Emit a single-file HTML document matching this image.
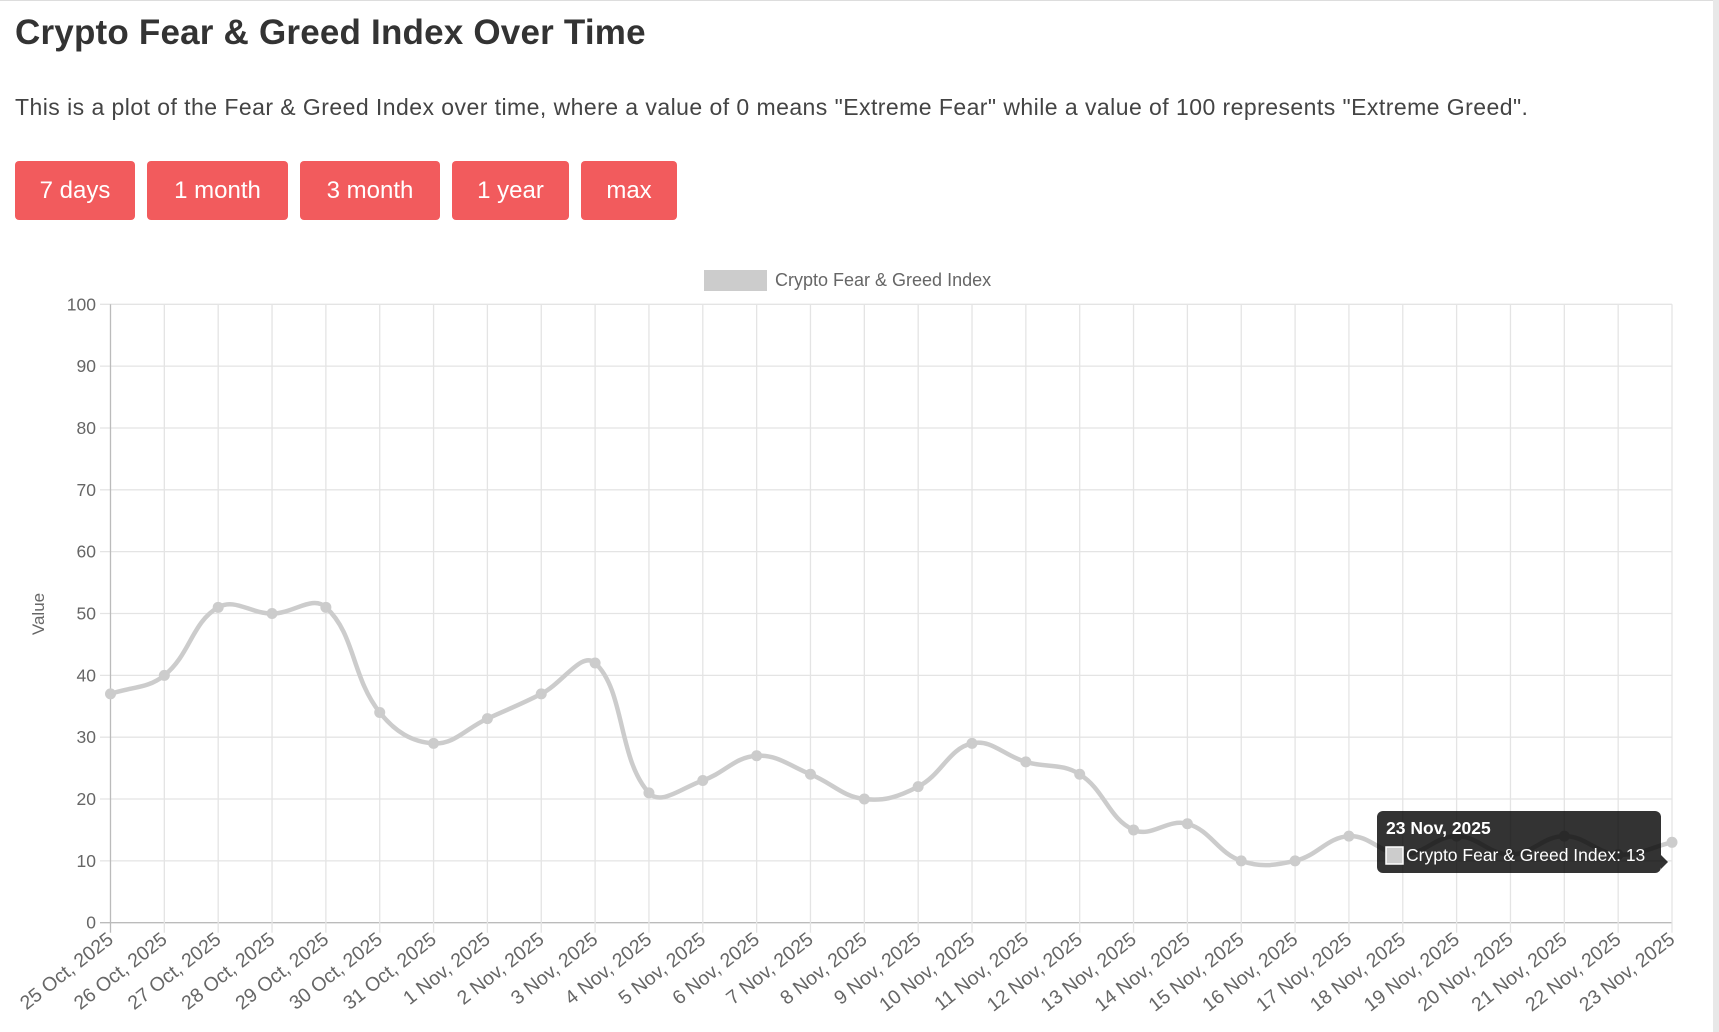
<!DOCTYPE html>
<html><head><meta charset="utf-8"><style>
html,body{margin:0;padding:0;background:#fff;width:1719px;height:1032px;overflow:hidden;position:relative;font-family:"Liberation Sans",sans-serif}
.topline{position:absolute;left:0;top:0;width:1713px;height:1px;background:#ddd}
.sb{position:absolute;right:0;top:0;width:6px;height:1032px;background:#e8e8e8}
h1{position:absolute;left:15px;top:13px;margin:0;font-size:35px;font-weight:bold;color:#333;letter-spacing:0.2px}
p{position:absolute;left:15px;top:94px;margin:0;font-size:23px;color:#444;letter-spacing:0.45px}
.btn{position:absolute;top:161px;height:59px;background:#f25b5d;color:#fff;border-radius:4px;font-size:24px;line-height:59px;text-align:center}
</style></head><body>
<div class="topline"></div><div class="sb"></div>
<h1>Crypto Fear &amp; Greed Index Over Time</h1>
<p>This is a plot of the Fear &amp; Greed Index over time, where a value of 0 means "Extreme Fear" while a value of 100 represents "Extreme Greed".</p>
<div class="btn" style="left:15px;width:120px">7 days</div>
<div class="btn" style="left:147px;width:141px">1 month</div>
<div class="btn" style="left:300px;width:140px">3 month</div>
<div class="btn" style="left:452px;width:117px">1 year</div>
<div class="btn" style="left:581px;width:96px">max</div>
<svg id="c" width="1719" height="1032" style="position:absolute;left:0;top:0" font-family="Liberation Sans, sans-serif"></svg>
<script>
var s=document.getElementById('c'),h='';
var L=110.5,R=1672,T=304.3,B=922.7,n=30,dx=(R-L)/29;
function Y(v){return B-(B-T)*v/100}
h+='<rect x="704" y="270" width="63" height="21" fill="#ccc"/><text x="775" y="286" font-size="18" fill="#666">Crypto Fear &amp; Greed Index</text>';
for(var i=0;i<=10;i++){var y=Y(i*10);h+='<line x1="100" x2="'+R+'" y1="'+y+'" y2="'+y+'" stroke="'+(i==0?'#bbb':'#e4e4e4')+'" stroke-width="1.3"/>';
h+='<text x="96" y="'+(y+6)+'" font-size="17.5" fill="#666" text-anchor="end">'+(i*10)+'</text>';}
var lab=[];for(var d=25;d<=31;d++)lab.push(d+' Oct, 2025');for(var d=1;d<=23;d++)lab.push(d+' Nov, 2025');
for(var i=0;i<n;i++){var x=L+i*dx;h+='<line x1="'+x+'" x2="'+x+'" y1="'+T+'" y2="'+(B+10)+'" stroke="'+(i==0?'#bbb':'#e4e4e4')+'" stroke-width="1.3"/>';
h+='<text transform="translate('+(x+4)+','+(B+19)+') rotate(-38)" font-size="19.5" fill="#666" text-anchor="end">'+lab[i]+'</text>';}
h+='<text transform="translate(44,614) rotate(-90)" font-size="17" fill="#666" text-anchor="middle">Value</text>';
var v=[37,40,51,50,51,34,29,33,37,42,21,23,27,24,20,22,29,26,24,15,16,10,10,14,11,14,11,14,11,13];
var P=v.map(function(a,i){return[L+i*dx,Y(a)]});
var t=0.4,d='M'+P[0][0]+','+P[0][1];
function cp(i){var p=P[Math.max(i-1,0)],c=P[i],q=P[Math.min(i+1,n-1)];
var d01=Math.hypot(c[0]-p[0],c[1]-p[1]),d12=Math.hypot(q[0]-c[0],q[1]-c[1]);
var fa=d01/(d01+d12)||0,fb=d12/(d01+d12)||0;fa*=t;fb*=t;
return[[c[0]-fa*(q[0]-p[0]),c[1]-fa*(q[1]-p[1])],[c[0]+fb*(q[0]-p[0]),c[1]+fb*(q[1]-p[1])]];}
var C=P.map(function(_,i){return cp(i)});
for(var i=1;i<n;i++){d+=' C'+C[i-1][1][0]+','+C[i-1][1][1]+' '+C[i][0][0]+','+C[i][0][1]+' '+P[i][0]+','+P[i][1];}
h+='<path d="'+d+'" fill="none" stroke="#ccc" stroke-width="4.5"/>';
P.forEach(function(p){h+='<circle cx="'+p[0]+'" cy="'+p[1]+'" r="5.5" fill="#ccc"/>'});
h+='<rect x="1377" y="811" width="284" height="62" rx="6" fill="#000" fill-opacity="0.8"/><path d="M1661,855 L1668,862 L1661,869Z" fill="#000" fill-opacity="0.8"/>';
h+='<text x="1386" y="834" font-size="17.5" font-weight="bold" fill="#fff">23 Nov, 2025</text>';
h+='<rect x="1386" y="847" width="17" height="17" fill="#ccc" stroke="#fff" stroke-width="1.5"/>';
h+='<text x="1406" y="861" font-size="17.5" fill="#fff">Crypto Fear &amp; Greed Index: 13</text>';
s.innerHTML=h;
</script>
</body></html>
